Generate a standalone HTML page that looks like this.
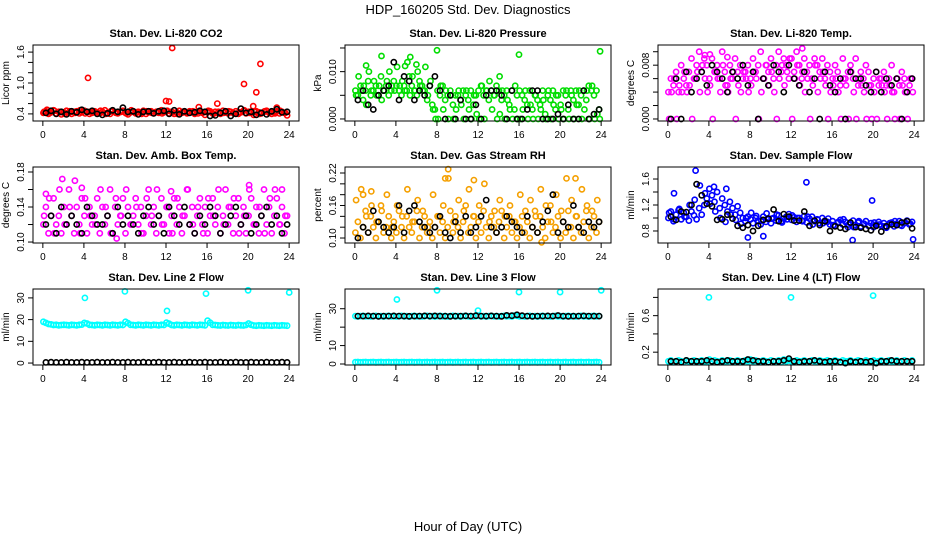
<!DOCTYPE html>
<html><head><meta charset="utf-8"><style>
body{margin:0;background:#fff;}
svg text{font-family:"Liberation Sans",sans-serif;}
</style></head><body>
<svg id="chart" width="936" height="540" xmlns="http://www.w3.org/2000/svg">
<rect width="936" height="540" fill="#fff"/>
<text x="468" y="14" font-size="13" text-anchor="middle">HDP_160205  Std. Dev. Diagnostics</text>
<text x="468" y="531" font-size="13" text-anchor="middle">Hour of Day (UTC)</text>
</svg>
<script>
const NS="http://www.w3.org/2000/svg";
const xTicks=[0,4,8,12,16,20,24];
// CO2
const co2A=[0.42,0.45,0.40,0.43,0.47,0.41,0.44,0.39,0.43,0.46,0.42,0.40,0.44,0.45,0.41,0.43,0.46,0.44,0.40,0.42,0.45,0.43,0.41,0.44,0.47,0.42,0.40,0.45,0.43,0.41,0.44,0.46,0.42,0.39,0.43,0.45,0.41,0.44,0.42,0.46,0.40,0.43,0.45,0.41,0.44,0.42,0.47,0.43,0.45,0.41,0.44,0.40,0.43,0.46,0.42,0.44,0.41,0.45,0.43,0.40,0.44,0.46,0.42,0.38,0.43,0.45,0.41,0.44,0.42,0.40,0.46,0.43,0.41,0.44,0.42,0.45,0.40,0.43,0.46,0.41,0.44,0.42,0.38,0.45,0.43,0.41,0.44,0.46,0.42,0.40,0.43,0.45,0.41,0.44,0.42,0.37];
const co2B=[0.44,0.41,0.46,0.43,0.40,0.45,0.42,0.47,0.41,0.44,0.43,0.46,0.40,0.45,0.42,0.44,0.41,0.47,0.43,0.40,0.45,0.42,0.44,0.41,0.46,0.43,0.40,0.44,0.42,0.45,0.41,0.43,0.46,0.40,0.44,0.42,0.45,0.41,0.43,0.47,0.42,0.44,0.40,0.45,0.43,0.41,0.46,0.42];
const co2Black=[0.42,0.46,0.40,0.44,0.39,0.45,0.43,0.48,0.44,0.46,0.40,0.38,0.41,0.47,0.44,0.52,0.44,0.45,0.39,0.44,0.45,0.41,0.45,0.46,0.40,0.47,0.39,0.45,0.42,0.43,0.46,0.44,0.36,0.37,0.42,0.45,0.36,0.40,0.50,0.42,0.44,0.38,0.42,0.39,0.45,0.49,0.43,0.44];
const co2OutH=[4.4,12.6,12,12.3,17,19.6,20.8,21.2,15.2,20.5,22.8,0.4];
const co2OutV=[1.1,1.68,0.65,0.64,0.6,0.98,0.82,1.37,0.53,0.55,0.52,0.48];
// Pressure (x0.001)
const presA=[6,5,7,4,6,8,5,6,7,5,9,6,7,5,6,8,7,6,5,7,6,9,7,6,5,8,7,6,4,7,3,2,6,5,7,4,5,6,3,5,5,4,6,5,4,6,3,5,6,7,5,6,4,6,5,7,6,4,5,6,3,6,2,5,6,5,4,3,6,2,5,4,3,6,1,5,4,6,2,5,3,6,5,2,6,4,6,3,5,6,4,7,6,5,6,2];
const presB=[5,9,6,7,3,10,6,8,5,7,4,6,8,10,7,6,11,7,8,6,12,5,9,6,10,7,6,11,5,8,2,0,0,7,2,6,0,5,0,2,6,3,0,6,2,0,5,1,0,7,0,6,8,2,5,0,1,6,0,4,2,0,7,0,0,2,6,0,3,0,5,0,2,4,0,6,0,3,5,0,2,0,6,0,5,0,3,6,0,2,6,0,7,0,1,0];
const presBlack=[4,6,3,2,5,6,7,12,4,9,8,4,6,5,7,9,6,0,5,0,4,0,0,3,0,5,6,6,5,0,6,0,0,2,6,6,0,0,0,1,0,3,0,0,6,0,1,2];
const presOutH=[1.1,2.6,5.4,6,4.9,8,16,23.9,14.1];
const presOutV=[11.3,13.3,13.1,11.5,11.2,14.5,13.6,14.3,9];
// Li-820 temp (x0.001)
const tempA=[4,6,5,7,4,8,6,5,7,9,6,8,10,7,9,8,6,9,7,8,6,10,7,5,8,6,9,7,8,6,7,8,6,9,7,8,10,6,8,7,9,6,8,10,7,9,8,6,9,7,10,8,6,9,7,8,6,9,8,7,9,6,8,7,6,8,7,5,9,6,7,8,6,9,5,7,6,8,7,5,6,7,5,6,7,5,6,8,4,6,5,7,6,4,5,6];
const tempB=[0,4,6,0,5,4,7,4,5,0,6,7,4,8,6,4,5,0,7,6,4,8,5,4,6,7,0,5,4,7,6,4,5,7,6,0,4,6,8,5,7,4,0,6,8,5,7,9,0,6,8,5,7,4,6,0,5,8,4,6,7,5,0,4,5,6,4,0,6,5,0,7,4,0,6,5,4,0,5,0,4,0,6,5,4,0,5,4,0,6,0,5,4,0,6,4];
const tempBlack=[0,6,0,7,4,6,7,5,8,7,6,4,7,6,8,5,7,0,6,5,8,7,4,8,6,5,7,4,6,0,7,5,4,6,0,7,6,6,5,4,7,4,6,5,6,0,4,6];
const tempOutH=[13.1,3.6,4.1,5.8];
const tempOutV=[10.5,9.5,9.6,9.2];
// Amb box temp
const ambA=[0.12,0.14,0.11,0.13,0.15,0.12,0.13,0.11,0.14,0.12,0.16,0.13,0.11,0.14,0.12,0.15,0.13,0.11,0.14,0.12,0.13,0.15,0.11,0.14,0.12,0.13,0.16,0.11,0.14,0.12,0.13,0.15,0.11,0.14,0.12,0.13,0.15,0.12,0.14,0.11,0.13,0.16,0.12,0.14,0.11,0.13,0.15,0.12,0.14,0.11,0.13,0.15,0.12,0.14,0.11,0.13,0.16,0.12,0.14,0.11,0.13,0.15,0.12,0.14,0.11,0.13,0.15,0.12,0.14,0.11,0.13,0.16,0.12,0.14,0.11,0.13,0.15,0.12,0.14,0.11,0.13,0.15,0.12,0.14,0.11,0.13,0.16,0.12,0.14,0.11,0.13,0.15,0.12,0.14,0.11,0.13];
const ambB=[0.13,0.15,0.11,0.16,0.12,0.14,0.17,0.11,0.15,0.13,0.12,0.16,0.14,0.11,0.15,0.13,0.16,0.12,0.14,0.11,0.15,0.13,0.16,0.12,0.14,0.11,0.15,0.13,0.16,0.12,0.14,0.11,0.15,0.13,0.16,0.12,0.14,0.15,0.11,0.13,0.16,0.12,0.14,0.11,0.15,0.16,0.12,0.13];
const ambBlack=[0.12,0.13,0.11,0.14,0.12,0.13,0.12,0.11,0.14,0.13,0.12,0.12,0.13,0.11,0.14,0.12,0.13,0.12,0.11,0.13,0.14,0.12,0.13,0.11,0.14,0.13,0.12,0.14,0.12,0.11,0.13,0.12,0.14,0.13,0.11,0.12,0.13,0.14,0.12,0.13,0.11,0.12,0.13,0.14,0.12,0.13,0.11,0.12];
const ambOutH=[1.9,7.2,0.3,23.3,12.5,3.8,20.1];
const ambOutV=[0.172,0.104,0.155,0.16,0.158,0.162,0.165];
// RH
const rhA=[0.11,0.13,0.10,0.12,0.15,0.11,0.14,0.12,0.10,0.13,0.16,0.11,0.12,0.14,0.10,0.13,0.11,0.15,0.12,0.10,0.14,0.12,0.11,0.13,0.15,0.10,0.12,0.14,0.11,0.13,0.10,0.12,0.14,0.11,0.13,0.10,0.12,0.15,0.11,0.14,0.12,0.10,0.13,0.16,0.11,0.12,0.14,0.10,0.13,0.11,0.15,0.12,0.10,0.14,0.12,0.11,0.13,0.15,0.10,0.12,0.14,0.11,0.13,0.10,0.12,0.14,0.11,0.13,0.10,0.12,0.15,0.11,0.14,0.12,0.10,0.13,0.16,0.11,0.12,0.14,0.10,0.13,0.11,0.15,0.12,0.10,0.14,0.12,0.11,0.13,0.15,0.10,0.12,0.14,0.11,0.13];
const rhB=[0.17,0.19,0.14,0.16,0.13,0.15,0.18,0.12,0.16,0.14,0.19,0.13,0.17,0.15,0.12,0.18,0.14,0.16,0.21,0.13,0.17,0.15,0.19,0.14,0.16,0.20,0.13,0.15,0.17,0.14,0.16,0.13,0.18,0.15,0.17,0.14,0.19,0.16,0.13,0.18,0.15,0.21,0.17,0.14,0.19,0.16,0.15,0.17];
const rhBlack=[0.10,0.12,0.11,0.15,0.13,0.12,0.11,0.12,0.16,0.11,0.15,0.16,0.13,0.12,0.11,0.12,0.14,0.11,0.10,0.13,0.11,0.14,0.11,0.12,0.14,0.17,0.12,0.11,0.12,0.14,0.13,0.12,0.11,0.14,0.12,0.11,0.13,0.15,0.18,0.11,0.13,0.12,0.16,0.12,0.11,0.13,0.12,0.13];
const rhOutH=[9.1,12.8,8.8,11.6,21.5,18.2,0.8,1.6];
const rhOutV=[0.227,0.236,0.21,0.207,0.21,0.092,0.18,0.186];
// Sample flow
const flowA=[1.00,1.10,0.95,1.05,1.12,0.98,1.08,1.02,0.96,1.10,1.04,0.98,1.15,1.05,1.20,1.30,1.45,1.35,1.25,1.40,1.15,1.30,1.20,1.10,1.25,1.15,1.05,1.18,1.08,1.00,0.95,1.02,0.98,0.92,1.00,0.96,0.90,1.02,0.94,0.98,0.92,1.00,0.96,1.04,0.95,0.99,1.02,1.06,0.97,1.01,0.94,1.00,0.96,1.03,0.93,0.99,1.02,0.95,0.98,0.92,1.00,0.96,0.94,0.90,0.95,0.88,0.93,0.97,0.90,0.94,0.86,0.92,0.96,0.89,0.93,0.87,0.91,0.95,0.88,0.92,0.86,0.90,0.94,0.88,0.92,0.85,0.90,0.93,0.87,0.91,0.95,0.88,0.92,0.96,0.90,0.94];
const flowB=[1.08,0.98,1.14,1.02,1.20,1.28,1.50,1.38,1.22,1.10,1.00,0.94,1.05,0.97,0.91,1.00,1.08,1.03,0.96,1.07,0.99,1.05,0.93,0.98,1.04,1.00,0.95,1.02,0.90,0.97,0.92,0.99,0.89,0.94,0.98,0.90,0.86,0.95,0.91,0.88,0.93,0.90,0.87,0.92,0.95,0.89,0.93,0.91];
const flowBlack=[1.02,0.97,1.10,1.09,1.20,1.52,1.35,1.22,1.18,0.97,0.98,1.05,0.99,0.88,0.85,0.89,0.80,0.88,0.97,0.99,1.13,0.95,1.06,1.02,0.96,0.96,1.10,0.88,0.96,0.89,0.95,0.80,0.87,0.85,0.83,0.93,0.86,0.85,0.83,0.81,0.88,0.79,0.87,0.90,0.89,0.93,0.95,0.84];
const flowOutH=[0.6,2.7,5.7,13.5,19.9,4.5,18,23.9,9.3,7.8];
const flowOutV=[1.38,1.73,1.45,1.55,1.27,1.48,0.66,0.67,0.72,0.70];
// Line 2
const l2A=[19,18.5,18,17.8,17.5,17.6,17.4,17.5,17.6,17.5,17.4,17.6,17.5,17.4,17.6,17.7,18.5,18.2,17.6,17.5,17.4,17.6,17.5,17.4,17.6,17.5,17.4,17.6,17.5,17.4,17.6,17.5,19,18.4,17.6,17.5,17.4,17.6,17.5,17.4,17.6,17.5,17.4,17.6,17.5,17.4,17.6,17.5,18.6,18.1,17.5,17.4,17.6,17.5,17.4,17.6,17.5,17.4,17.6,17.5,17.4,17.6,17.5,17.4,19.5,18.6,17.6,17.5,17.4,17.3,17.5,17.4,17.3,17.5,17.4,17.3,17.5,17.4,17.3,17.5,18.2,17.6,17.3,17.2,17.4,17.3,17.2,17.4,17.3,17.2,17.4,17.3,17.2,17.4,17.3,17.2];
const l2Black=[0.3,0.4,0.3,0.3,0.4,0.3,0.3,0.4,0.3,0.3,0.4,0.3,0.3,0.4,0.3,0.3,0.4,0.3,0.3,0.4,0.3,0.3,0.4,0.3,0.3,0.4,0.3,0.3,0.4,0.3,0.3,0.4,0.3,0.3,0.4,0.3,0.3,0.4,0.3,0.3,0.4,0.3,0.3,0.4,0.3,0.3,0.4,0.3];
const l2OutH=[4.1,8,12.1,15.9,20,24];
const l2OutV=[30,33,24,32,33.5,32.5];
// Line 3
const l3A=[26,25.8,26,26.1,25.9,26,25.8,26,26.1,25.9,26,25.8,26,26.1,25.9,26,25.8,26,26.1,25.9,26,25.8,26,26.1,25.9,26,25.8,26,26.1,25.9,26,25.8,26,26.1,25.9,26,25.8,26,26.1,25.9,26,25.8,26,26.1,25.9,26,25.8,26,26.1,25.9,26,25.8,26,26.1,25.9,26,25.8,26,26.1,25.9,26,25.8,26.3,26.1,25.9,26,25.8,26,26.1,25.9,26,25.8,26,26.1,25.9,26,25.8,26,26.1,25.9,26,25.8,26,26.1,25.9,26,25.8,26,26.1,25.9,26,25.8,26,26.1,25.9,26];
const l3Zero=[1,1.1,0.9,1,1.1,0.9,1,1.1,0.9,1,1.1,0.9,1,1.1,0.9,1,1.1,0.9,1,1.1,0.9,1,1.1,0.9,1,1.1,0.9,1,1.1,0.9,1,1.1,0.9,1,1.1,0.9,1,1.1,0.9,1,1.1,0.9,1,1.1,0.9,1,1.1,0.9,1,1.1,0.9,1,1.1,0.9,1,1.1,0.9,1,1.1,0.9,1,1.1,0.9,1,1.1,0.9,1,1.1,0.9,1,1.1,0.9,1,1.1,0.9,1,1.1,0.9,1,1.1,0.9,1,1.1,0.9,1,1.1,0.9,1,1.1,0.9,1,1.1,0.9,1,1.1,0.9];
const l3Black=[26,26,26.1,26,25.9,26,26,26.1,26,26,25.9,26,26,26.1,26,26.1,26,26,25.9,26,26,26.1,26,26.2,26,26,26.1,26,25.9,26.4,26.2,26.7,26.2,26,25.9,26,26,26.1,26,26.3,26,25.9,26,26,26.1,26,26,26];
const l3OutH=[4.1,8,12,16,20,24];
const l3OutV=[35,40,29,39,39,40];
// Line 4
const l4A=[0.1,0.11,0.09,0.1,0.11,0.1,0.09,0.11,0.1,0.1,0.11,0.09,0.1,0.11,0.1,0.09,0.12,0.1,0.11,0.1,0.09,0.11,0.1,0.1,0.11,0.09,0.1,0.11,0.1,0.09,0.11,0.1,0.12,0.1,0.11,0.09,0.1,0.11,0.1,0.09,0.11,0.1,0.1,0.11,0.09,0.12,0.1,0.11,0.1,0.09,0.11,0.1,0.1,0.11,0.09,0.1,0.11,0.1,0.09,0.11,0.1,0.1,0.11,0.09,0.1,0.11,0.1,0.09,0.11,0.1,0.1,0.11,0.09,0.1,0.11,0.1,0.09,0.11,0.1,0.1,0.11,0.09,0.1,0.11,0.1,0.09,0.11,0.1,0.1,0.11,0.09,0.1,0.11,0.1,0.09,0.11];
const l4Black=[0.1,0.1,0.09,0.11,0.1,0.1,0.1,0.11,0.1,0.09,0.1,0.11,0.1,0.1,0.1,0.12,0.11,0.1,0.1,0.09,0.1,0.1,0.11,0.13,0.1,0.09,0.1,0.1,0.11,0.1,0.09,0.1,0.1,0.09,0.08,0.1,0.09,0.1,0.09,0.1,0.08,0.1,0.1,0.11,0.1,0.1,0.1,0.1];
const l4OutH=[4,12,20];
const l4OutV=[0.8,0.8,0.82];

const svg=document.getElementById('chart');
function mk(tag,attrs,parent){const e=document.createElementNS(NS,tag);for(const k in attrs)e.setAttribute(k,attrs[k]);(parent||svg).appendChild(e);return e;}

const panels=[
 {name:'co2',title:'Stan. Dev. Li-820 CO2',yl:'Licor ppm',L:33,T:45,dom:[0.262,1.738],ticks:[0.4,0.6,0.8,1.0,1.2,1.4,1.6],labs:{'0.4':'0.4','1':'1.0','1.6':'1.6'},col:'#ff0000',A:co2A,B:co2B,K:co2Black,OH:co2OutH,OV:co2OutV,s:1},
 {name:'pressure',title:'Stan. Dev. Li-820 Pressure',yl:'kPa',L:345,T:45,dom:[-0.00043,0.01563],ticks:[0,0.005,0.01,0.015],labs:{'0':'0.000','0.01':'0.010'},col:'#00dd00',A:presA,B:presB,K:presBlack,OH:presOutH,OV:presOutV,s:0.001},
 {name:'li820-temp',title:'Stan. Dev. Li-820 Temp.',yl:'degrees C',L:658,T:45,dom:[-0.0003,0.011],ticks:[0,0.002,0.004,0.006,0.008,0.01],labs:{'0':'0.000','0.008':'0.008'},col:'#ff00ff',A:tempA,B:tempB,K:tempBlack,OH:tempOutH,OV:tempOutV,s:0.001},
 {name:'amb-box-temp',title:'Stan. Dev. Amb. Box Temp.',yl:'degrees C',L:33,T:167,dom:[0.0989,0.1857],ticks:[0.1,0.12,0.14,0.16,0.18],labs:{'0.1':'0.10','0.14':'0.14','0.18':'0.18'},col:'#ff00ff',A:ambA,B:ambB,K:ambBlack,OH:ambOutH,OV:ambOutV,s:1},
 {name:'gas-rh',title:'Stan. Dev. Gas Stream RH',yl:'percent',L:345,T:167,dom:[0.0908,0.2311],ticks:[0.1,0.12,0.14,0.16,0.18,0.2,0.22],labs:{'0.1':'0.10','0.16':'0.16','0.22':'0.22'},col:'#f5a000',A:rhA,B:rhB,K:rhBlack,OH:rhOutH,OV:rhOutV,s:1},
 {name:'sample-flow',title:'Stan. Dev. Sample Flow',yl:'ml/min',L:658,T:167,dom:[0.615,1.785],ticks:[0.8,1.0,1.2,1.4,1.6],labs:{'0.8':'0.8','1.2':'1.2','1.6':'1.6'},col:'#0000ff',A:flowA,B:flowB,K:flowBlack,OH:flowOutH,OV:flowOutV,s:1},
 {name:'line2-flow',title:'Stan. Dev. Line 2 Flow',yl:'ml/min',L:33,T:289,dom:[-0.9,34.1],ticks:[0,10,20,30],labs:{'0':'0','10':'10','20':'20','30':'30'},col:'#00ffff',A:l2A,B:null,K:l2Black,OH:l2OutH,OV:l2OutV,s:1},
 {name:'line3-flow',title:'Stan. Dev. Line 3 Flow',yl:'ml/min',L:345,T:289,dom:[-0.54,40.7],ticks:[0,10,20,30],labs:{'0':'0','10':'10','30':'30'},col:'#00ffff',A:l3A,Z:l3Zero,B:null,K:l3Black,OH:l3OutH,OV:l3OutV,s:1},
 {name:'line4-flow',title:'Stan. Dev. Line 4 (LT) Flow',yl:'ml/min',L:658,T:289,dom:[0.0595,0.892],ticks:[0.2,0.4,0.6,0.8],labs:{'0.2':'0.2','0.6':'0.6'},col:'#00ffff',A:l4A,B:null,K:l4Black,OH:l4OutH,OV:l4OutV,s:1}
];
const W=266,H=76;
panels.forEach(p=>{
 const g=mk('g',{});
 
 
 const R=p.L+W,Bt=p.T+H;
 const xs=t=>p.L+9.85+t/24*246.3;
 const ys=v=>Bt-(v-p.dom[0])/(p.dom[1]-p.dom[0])*H;
 const t=mk('text',{x:p.L+W/2,y:p.T-8,'font-size':'11','font-weight':'bold','text-anchor':'middle'},g);
 t.textContent=p.title;
 
 
 const dots=mk('g',{fill:'none','stroke-width':'1.6'},g);
 
 
 const pt=(h,v,c)=>{if(v<p.dom[0]||v>p.dom[1])return;const c1=mk('circle',{cx:xs(h).toFixed(1),cy:ys(v).toFixed(1),r:2.6,stroke:c},dots);
  
  };
 if(p.Z)p.Z.forEach((v,i)=>pt(i/4+0.05,v*p.s,p.col));
 p.A.forEach((v,i)=>pt(i/4+0.05,v*p.s,p.col));
 if(p.B){const n=p.B.length;p.B.forEach((v,i)=>pt(i*24/n+0.12,v*p.s,p.col));}
 p.OH.forEach((h,i)=>pt(h,p.OV[i]*p.s,p.col));
 p.K.forEach((v,i)=>pt(i/2+0.3,v*p.s,'#000'));
 const box=mk('rect',{x:p.L,y:p.T,width:W,height:H,fill:'none',stroke:'#000','stroke-width':'1'},g);
 
 
 const xa=mk('g',{},g);
 
 
 mk('line',{x1:xs(0),x2:xs(24),y1:Bt,y2:Bt,stroke:'#000'},xa);
 xTicks.forEach(h=>{mk('line',{x1:xs(h),x2:xs(h),y1:Bt,y2:Bt+5,stroke:'#000'},xa);
  const l=mk('text',{x:xs(h),y:Bt+17,'font-size':'10','text-anchor':'middle'},xa);l.textContent=h;
  
  });
 const ya=mk('g',{},g);
 
 
 mk('line',{x1:p.L,x2:p.L,y1:ys(p.ticks[0]),y2:ys(p.ticks[p.ticks.length-1]),stroke:'#000'},ya);
 p.ticks.forEach(v=>{const y=ys(v);mk('line',{x1:p.L-5,x2:p.L,y1:y,y2:y,stroke:'#000'},ya);
  const key=String(+v.toFixed(4));
  if(p.labs[key]){const l=mk('text',{x:p.L-9,y:y,'font-size':'10','text-anchor':'middle',transform:`rotate(-90 ${p.L-9} ${y})`},ya);l.textContent=p.labs[key];
   
   }});
 const yt=mk('text',{x:p.L-24,y:p.T+H/2,'font-size':'10','text-anchor':'middle',transform:`rotate(-90 ${p.L-24} ${p.T+H/2})`},g);
 yt.textContent=p.yl;
 
 
});
</script>
</body></html>
